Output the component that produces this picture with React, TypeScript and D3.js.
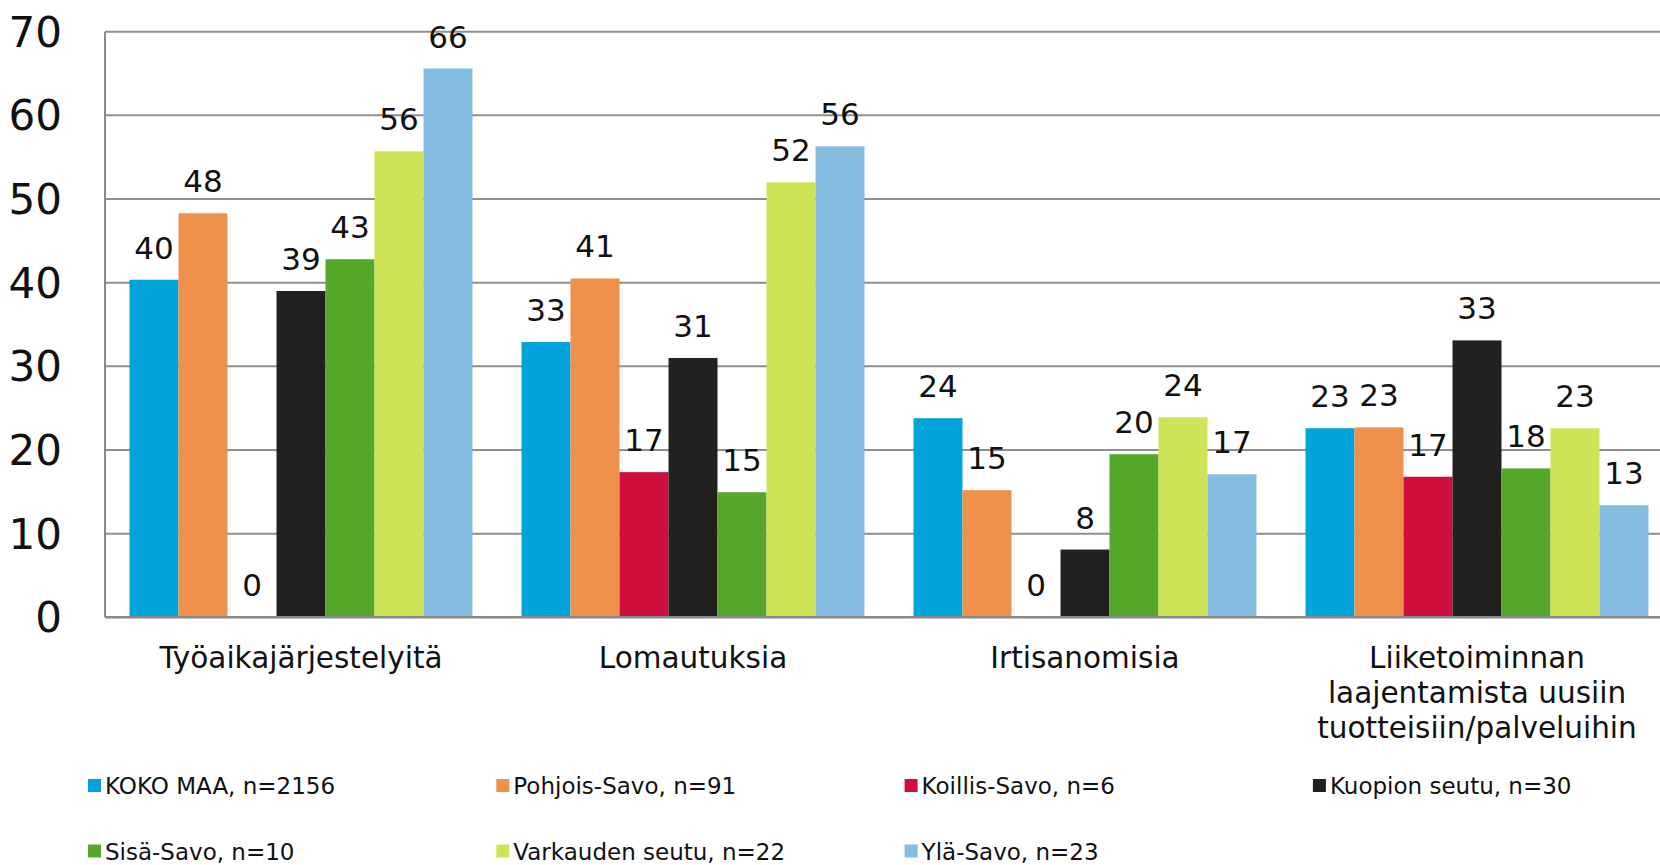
import React from "react";
import * as d3 from "d3";

const categories = [
  "Työaikajärjestelyitä",
  "Lomautuksia",
  "Irtisanomisia",
  "Liiketoiminnan laajentamista uusiin tuotteisiin/palveluihin",
];
const categoryLines = [
  ["Työaikajärjestelyitä"],
  ["Lomautuksia"],
  ["Irtisanomisia"],
  ["Liiketoiminnan", "laajentamista uusiin", "tuotteisiin/palveluihin"],
];

const seriesNames = [
  "KOKO MAA, n=2156",
  "Pohjois-Savo, n=91",
  "Koillis-Savo, n=6",
  "Kuopion seutu, n=30",
  "Sisä-Savo, n=10",
  "Varkauden seutu, n=22",
  "Ylä-Savo, n=23",
];
const seriesColors = ["#00a3da", "#f0914b", "#ce0e3d", "#222120", "#56a82a", "#cbe556", "#85bde2"];

// one array per series, values in category order
const kokoMaa = [40.35, 32.9, 23.8, 22.6];
const pohjoisSavo = [48.3, 40.5, 15.2, 22.7];
const koillisSavo = [0, 17.35, 0, 16.8];
const kuopionSeutu = [39.0, 31.0, 8.1, 33.1];
const sisaSavo = [42.8, 14.95, 19.5, 17.8];
const varkaudenSeutu = [55.7, 52.0, 23.9, 22.6];
const ylaSavo = [65.6, 56.3, 17.1, 13.4];
const seriesValues = [kokoMaa, pohjoisSavo, koillisSavo, kuopionSeutu, sisaSavo, varkaudenSeutu, ylaSavo];

const yTicks = [0, 10, 20, 30, 40, 50, 60, 70];

const width = 1660;
const height = 865;
const font = "'DejaVu Sans', sans-serif";

export default function App() {
  const plot = { left: 105, right: 1673, top: 31.7, bottom: 617.3 };

  const x = d3
    .scaleBand<string>()
    .domain(categories)
    .range([plot.left, plot.right])
    .paddingInner(0.125)
    .paddingOuter(0.0625);

  const xs = d3
    .scaleBand<number>()
    .domain(d3.range(seriesNames.length))
    .range([0, x.bandwidth()])
    .padding(0);

  const y = d3.scaleLinear().domain([0, 70]).range([plot.bottom, plot.top]);

  return (
    <div style={{ position: "absolute", left: 0, top: 0 }}>
      <svg width={width} height={height} style={{ display: "block", background: "#fff" }}>
        {/* gridlines */}
        {yTicks.slice(1).map((t) => (
          <line key={t} x1={plot.left} x2={plot.right} y1={y(t)} y2={y(t)} stroke="#8f8f8f" strokeWidth={2} />
        ))}
        {yTicks.map((t) => (
          <text
            key={"l" + t}
            x={62}
            y={y(t) + 15}
            textAnchor="end"
            fontFamily={font}
            fontSize={42}
            fill="#111"
          >
            {t}
          </text>
        ))}

        {/* bars */}
        {categories.map((c, ci) => (
          <g key={c} transform={`translate(${x(c)},0)`}>
            {seriesValues.map((vals, si) => {
              const v = vals[ci];
              return (
                <g key={si}>
                  <rect
                    x={xs(si)}
                    y={y(v)}
                    width={xs.bandwidth()}
                    height={y(0) - y(v)}
                    fill={seriesColors[si]}
                  />
                  <text
                    x={xs(si)! + xs.bandwidth() / 2}
                    y={y(v) - 21}
                    textAnchor="middle"
                    fontFamily={font}
                    fontSize={31}
                    fill="#111"
                  >
                    {Math.round(v)}
                  </text>
                </g>
              );
            })}
          </g>
        ))}

        {/* axes */}
        <line x1={plot.left} x2={plot.left} y1={y(70)} y2={y(0)} stroke="#8a8a8a" strokeWidth={2} />
        <line x1={plot.left} x2={plot.right} y1={y(0)} y2={y(0)} stroke="#8a8a8a" strokeWidth={2.5} />

        {/* category labels */}
        {categories.map((c, ci) => (
          <text
            key={"c" + c}
            x={x(c)! + x.bandwidth() / 2}
            y={668}
            textAnchor="middle"
            fontFamily={font}
            fontSize={29.5}
            fill="#111"
          >
            {categoryLines[ci].map((line, li) => (
              <tspan key={li} x={x(c)! + x.bandwidth() / 2} dy={li === 0 ? 0 : 35}>
                {line}
              </tspan>
            ))}
          </text>
        ))}

        {/* legend */}
        {seriesNames.map((name, i) => {
          const col = i % 4;
          const row = Math.floor(i / 4);
          const lx = 88 + col * 408.3;
          const ly = 794 + row * 65.5;
          return (
            <g key={name} transform={`translate(${lx},${ly})`}>
              <rect x={0} y={-15} width={13} height={13} fill={seriesColors[i]} />
              <text x={17} y={0} fontFamily={font} fontSize={23} fill="#111">
                {name}
              </text>
            </g>
          );
        })}
      </svg>
    </div>
  );
}
